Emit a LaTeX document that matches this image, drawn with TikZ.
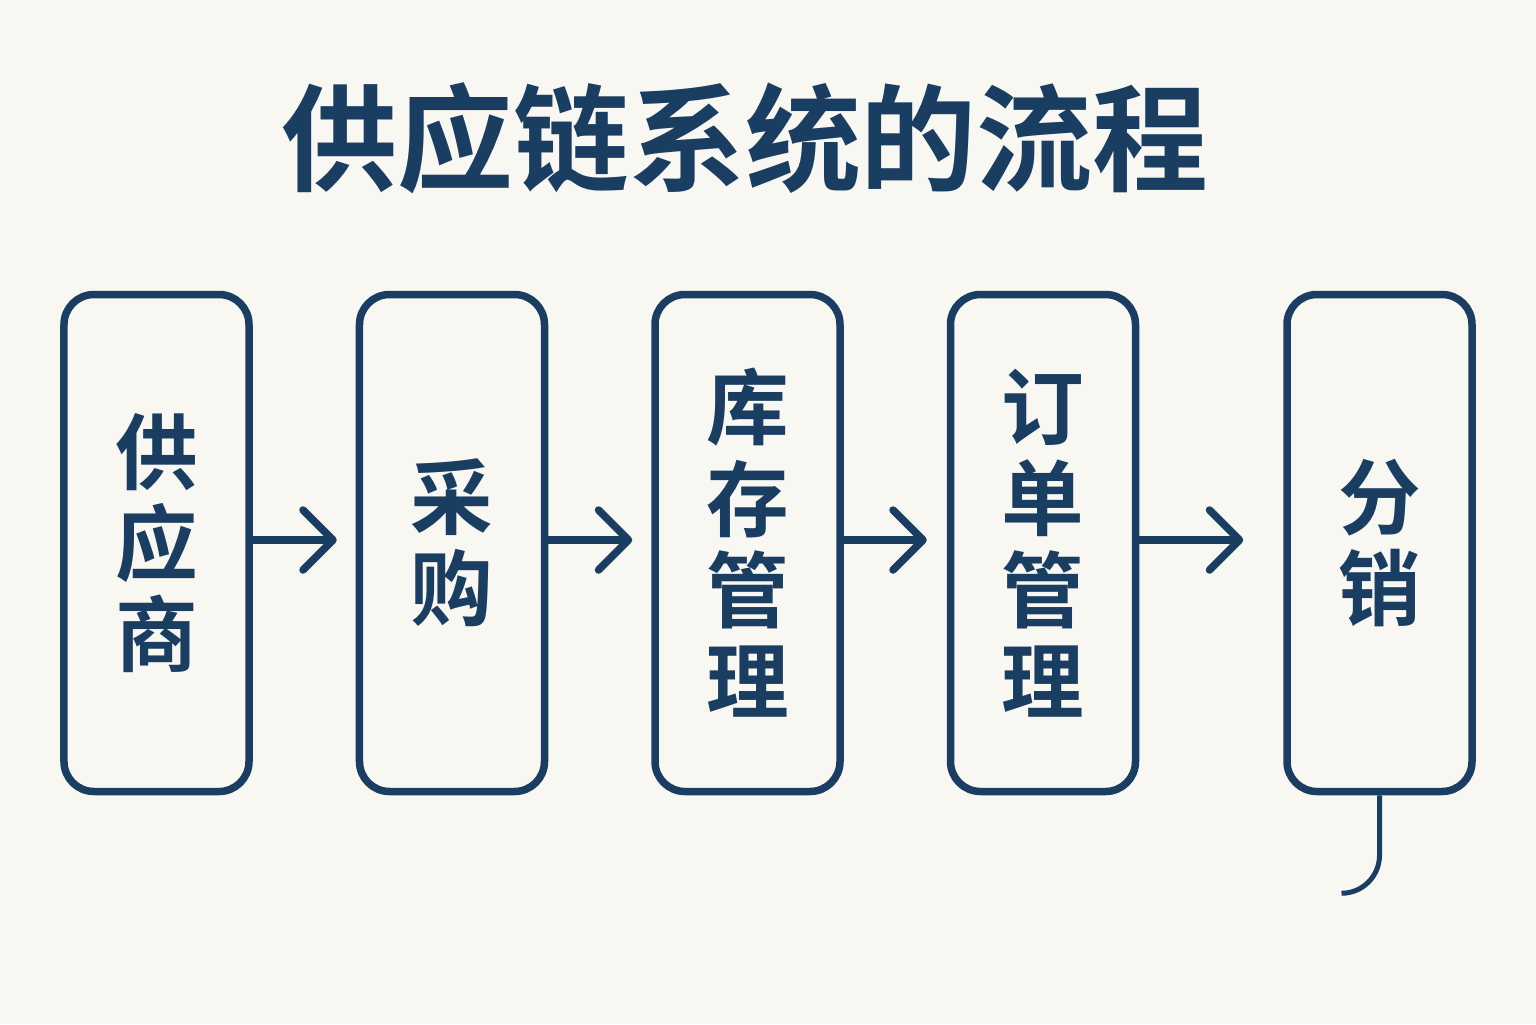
\documentclass[tikz,border=0pt]{standalone}
\usepackage{fontspec}
\newfontfamily\cjk{Noto Sans CJK SC}[BoldFont={Noto Sans CJK SC Bold}]
\usetikzlibrary{arrows.meta}
\definecolor{ink}{HTML}{1A3E61}
\definecolor{paper}{HTML}{F9F7F2}

\begin{document}
\begin{tikzpicture}[
        font=\cjk\bfseries,
        stage/.style={draw=ink, line width=0.075cm, rounded corners=0.3cm,
            minimum width=1.85cm, minimum height=4.97cm, align=center, text=ink,
            font=\cjk\bfseries\fontsize{23.5pt}{26pt}\selectfont},
        link/.style={draw=ink, line width=0.075cm,
            -{Straight Barb[round, length=0.3cm, width=0.6cm]}}
    ]
    \fill[paper] (0,0) rectangle (15.36,-10.24);
    \useasboundingbox (0,0) rectangle (15.36,-10.24);
    % title
    \node[text=ink, font=\cjk\bfseries\fontsize{33pt}{40pt}\selectfont] (title) at (7.45,-1.38) {供应链系统的流程};
    \matrix (thechain) [column sep=1.03cm] at (7.68,-5.43) {
        % stages
        \node[stage] (supplier) {供\\应\\商}; &
        \node[stage] (purchase) {采\\购}; &
        \node[stage] (stock) {库\\存\\管\\理}; &
        \node[stage] (orders) {订\\单\\管\\理}; &[0.41cm]
        \node[stage] (distribution) {分\\销}; \\
    };
    % links
    \draw[link] ([yshift=0.03cm]supplier.east) -- ([xshift=-0.19cm, yshift=0.03cm]purchase.west);
    \draw[link] ([yshift=0.03cm]purchase.east) -- ([xshift=-0.19cm, yshift=0.03cm]stock.west);
    \draw[link] ([yshift=0.03cm]stock.east) -- ([xshift=-0.2cm, yshift=0.03cm]orders.west);
    \draw[link] ([yshift=0.03cm]orders.east) -- ([xshift=-0.4cm, yshift=0.03cm]distribution.west);
    \draw[ink, line width=0.05cm] (distribution.south) -- ++(0,-0.6)
        arc[start angle=0, end angle=-90, radius=0.38];
\end{tikzpicture}
\end{document}
